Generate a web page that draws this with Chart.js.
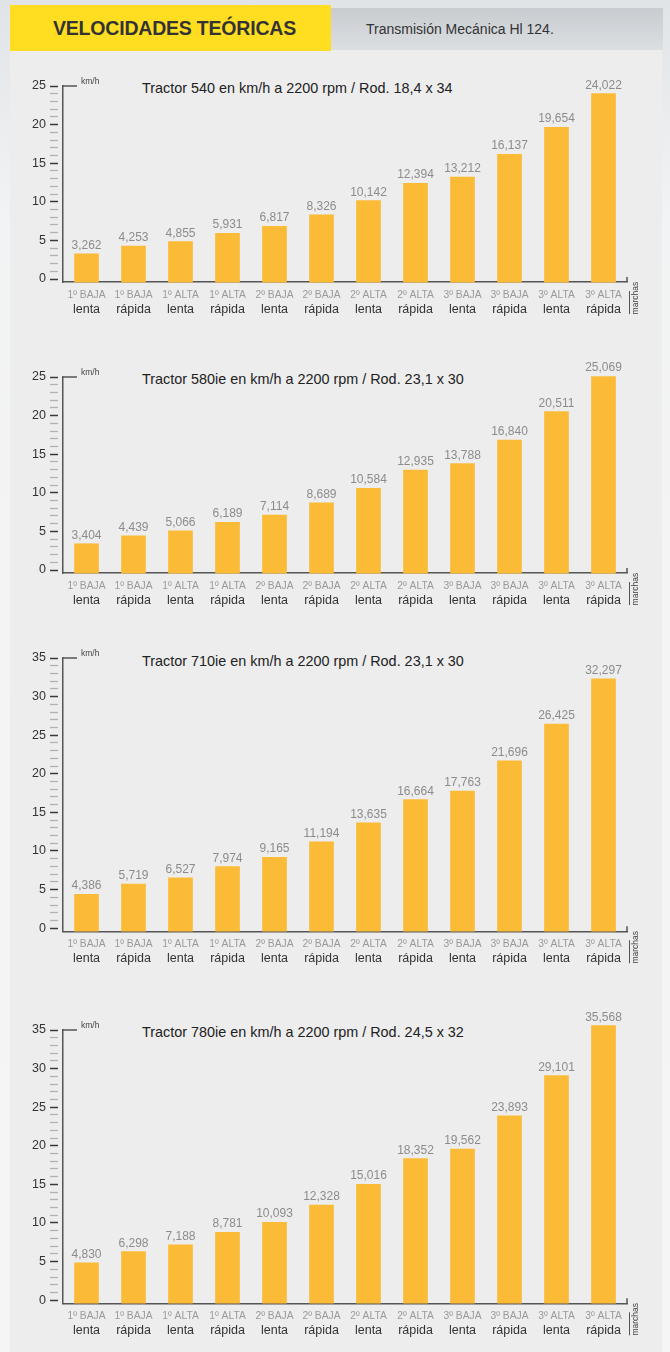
<!DOCTYPE html>
<html lang="es">
<head>
<meta charset="utf-8">
<title>Velocidades teóricas</title>
<script src="https://cdn.jsdelivr.net/npm/chart.js@4.4.1/dist/chart.umd.min.js"></script>
<style>
  body { margin: 0; width: 670px; height: 1352px; overflow: hidden; position: relative;
    background: linear-gradient(to bottom, #e1e4e7 0px, #f2f3f4 220px, #f5f5f5 100%);
    font-family: "Liberation Sans", Arial, sans-serif; }
  #panel { position: absolute; left: 10px; top: 50px; width: 652px; height: 1302px; background: #ededed; }
  #cabecera { position: absolute; left: 10px; top: 5px; width: 321px; height: 46px; background: #ffde22;
    font-weight: bold; font-size: 19.5px; color: #333; line-height: 46px; text-align: center; padding-left: 8px;
    box-sizing: border-box; letter-spacing: -0.2px; }
  #franja { position: absolute; left: 331px; top: 8px; width: 332px; height: 42px;
    background: linear-gradient(to bottom, #c8cbcf, #dcdfe2); }
  #franja span { position: absolute; left: 35px; top: 13px; font-size: 14px; color: #333; }
  .titulo { position: absolute; left: 142px; font-size: 14.4px; color: #222; line-height: 16px; white-space: nowrap; }
  canvas { position: absolute; left: 0; }
</style>
</head>
<body>
<div id="panel"></div>
<div id="cabecera">VELOCIDADES TEÓRICAS</div>
<div id="franja"><span>Transmisión Mecánica Hl 124.</span></div>

<div class="titulo" style="top:80px">Tractor 540 en km/h a 2200 rpm / Rod. 18,4 x 34</div>
<div class="titulo" style="top:371px">Tractor 580ie en km/h a 2200 rpm / Rod. 23,1 x 30</div>
<div class="titulo" style="top:653px">Tractor 710ie en km/h a 2200 rpm / Rod. 23,1 x 30</div>
<div class="titulo" style="top:1024px">Tractor 780ie en km/h a 2200 rpm / Rod. 24,5 x 32</div>

<canvas id="g1" width="670" height="272" style="top:60px"></canvas>
<canvas id="g2" width="670" height="272" style="top:351px"></canvas>
<canvas id="g3" width="670" height="350" style="top:632px"></canvas>
<canvas id="g4" width="670" height="348" style="top:1004px"></canvas>

<script>
// marchas (dos renglones por barra)
var marchasA = ['1º BAJA', '1º BAJA', '1º ALTA', '1º ALTA', '2º BAJA', '2º BAJA',
                '2º ALTA', '2º ALTA', '3º BAJA', '3º BAJA', '3º ALTA', '3º ALTA'];
var marchasB = ['lenta', 'rápida', 'lenta', 'rápida', 'lenta', 'rápida',
                'lenta', 'rápida', 'lenta', 'rápida', 'lenta', 'rápida'];

// km/h a 2200 rpm
var tractor540 = [3.262, 4.253, 4.855, 5.931, 6.817, 8.326, 10.142, 12.394, 13.212, 16.137, 19.654, 24.022];
var tractor580 = [3.404, 4.439, 5.066, 6.189, 7.114, 8.689, 10.584, 12.935, 13.788, 16.840, 20.511, 25.069];
var tractor710 = [4.386, 5.719, 6.527, 7.974, 9.165, 11.194, 13.635, 16.664, 17.763, 21.696, 26.425, 32.297];
var tractor780 = [4.830, 6.298, 7.188, 8.781, 10.093, 12.328, 15.016, 18.352, 19.562, 23.893, 29.101, 35.568];

// tope del eje y
var maximos = [25, 25, 35, 35];

var PX_UNIDAD = 7.72;
var MINIMO = -0.4;
var FUENTE = '"Liberation Sans", Arial, sans-serif';

var etiquetasValor = {
  id: 'etiquetasValor',
  afterDatasetsDraw: function(chart) {
    var ctx = chart.ctx;
    var meta = chart.getDatasetMeta(0);
    var datos = chart.data.datasets[0].data;
    ctx.save();
    ctx.font = '12px ' + FUENTE;
    ctx.fillStyle = '#8c8c8c';
    ctx.textAlign = 'center';
    ctx.textBaseline = 'alphabetic';
    meta.data.forEach(function(barra, i) {
      ctx.fillText(datos[i].toFixed(3).replace('.', ','), barra.x, barra.y - 5);
    });
    ctx.restore();
  }
};

var adornos = {
  id: 'adornos',
  afterDraw: function(chart) {
    var ctx = chart.ctx, a = chart.chartArea;
    ctx.save();
    ctx.strokeStyle = '#555';
    ctx.lineWidth = 1.5;
    ctx.beginPath();
    ctx.moveTo(a.left - 0.75, a.top);
    ctx.lineTo(a.left + 14, a.top);
    ctx.moveTo(a.right, a.bottom);
    ctx.lineTo(a.right, a.bottom - 5);
    ctx.stroke();
    ctx.lineWidth = 1;
    ctx.beginPath();
    ctx.moveTo(a.right + 2.5, a.bottom + 9);
    ctx.lineTo(a.right + 2.5, a.bottom + 32);
    ctx.stroke();
    ctx.fillStyle = '#444';
    ctx.font = '8.5px ' + FUENTE;
    ctx.textBaseline = 'middle';
    ctx.textAlign = 'left';
    ctx.fillText('km/h', a.left + 18, a.top - 4);
    ctx.translate(a.right + 9, a.bottom + 16);
    ctx.rotate(-Math.PI / 2);
    ctx.textAlign = 'center';
    ctx.fillText('marchas', 0, 0);
    ctx.restore();
  }
};

function crearGrafico(id, datos, maximo) {
  var canvas = document.getElementById(id);
  var alto = canvas.height;
  var altoPlot = (maximo - MINIMO) * PX_UNIDAD;
  var altoX = 18;
  var altoX2 = alto - 26 - altoPlot - altoX;

  return new Chart(canvas, {
    type: 'bar',
    data: {
      labels: marchasA,
      datasets: [{
        data: datos,
        base: MINIMO,
        backgroundColor: '#fbbb37',
        barThickness: 24,
        clip: false
      }]
    },
    options: {
      responsive: false,
      animation: false,
      layout: { padding: { top: 26, left: 30, right: 43, bottom: 0 } },
      plugins: { legend: { display: false }, tooltip: { enabled: false } },
      scales: {
        x: {
          weight: 0,
          offset: true,
          grid: { display: true, drawOnChartArea: false, drawTicks: false, offset: true },
          border: { display: true, color: '#555', width: 1.5 },
          ticks: { color: '#9a9a9a', font: { family: FUENTE, size: 10.3 }, padding: 7,
                   autoSkip: false, maxRotation: 0 },
          afterFit: function(s) { s.height = altoX; }
        },
        x2: {
          type: 'category',
          position: 'bottom',
          weight: 1,
          offset: true,
          labels: marchasB,
          grid: { display: false, drawTicks: false },
          border: { display: false },
          ticks: { color: '#333', font: { family: FUENTE, size: 12.5 }, padding: 1.5,
                   autoSkip: false, maxRotation: 0 },
          afterFit: function(s) { s.height = altoX2; }
        },
        y: {
          min: MINIMO,
          max: maximo,
          grid: {
            drawOnChartArea: false,
            drawTicks: true,
            tickLength: 13,
            tickBorderDash: [8, 5],
            tickColor: function(c) { return c.tick && c.tick.value % 5 === 0 ? '#3a3a3a' : '#b2b2b2'; },
            tickWidth: function(c) { return c.tick && c.tick.value % 5 === 0 ? 1.5 : 1.3; }
          },
          border: { display: true, color: '#555', width: 1.5 },
          ticks: {
            autoSkip: false,
            padding: 4,
            color: '#333',
            font: { family: FUENTE, size: 12.5 },
            callback: function(v) { return v % 5 === 0 ? String(v) : ''; }
          },
          afterBuildTicks: function(s) {
            var t = [];
            for (var v = 0; v <= maximo; v++) t.push({ value: v });
            s.ticks = t;
          },
          afterFit: function(s) { s.width = 33; }
        }
      }
    },
    plugins: [etiquetasValor, adornos]
  });
}

crearGrafico('g1', tractor540, maximos[0]);
crearGrafico('g2', tractor580, maximos[1]);
crearGrafico('g3', tractor710, maximos[2]);
crearGrafico('g4', tractor780, maximos[3]);
</script>
</body>
</html>
